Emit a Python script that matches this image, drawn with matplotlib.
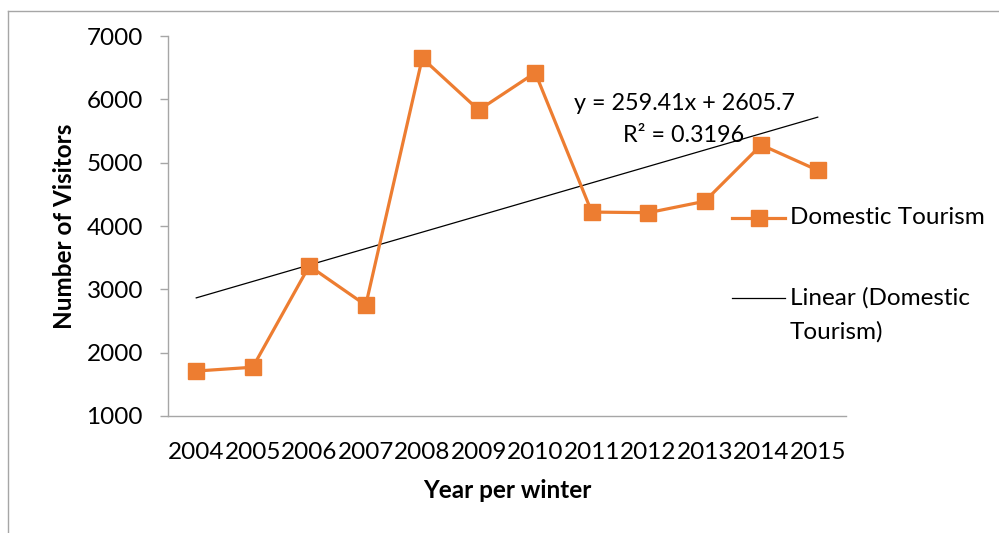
import matplotlib
matplotlib.use('Agg')  # Headless mode
import matplotlib.pyplot as plt
from matplotlib.lines import Line2D
import numpy as np

# chart data
years = ['2004', '2005', '2006', '2007', '2008', '2009',
         '2010', '2011', '2012', '2013', '2014', '2015']
visitors = [1710, 1770, 3370, 2750, 6650, 5830,
            6420, 4220, 4210, 4390, 5280, 4880]
trend_slope = 259.41
trend_intercept = 2605.7
trend_r2 = 0.3196
y_ticks = [1000, 2000, 3000, 4000, 5000, 6000, 7000]

ORANGE = '#ED7D31'
GRAY = '#A6A6A6'
FONT = 'Lato'
FS = 17.5

plt.rcParams['font.family'] = [FONT, 'DejaVu Sans']

fig = plt.figure(figsize=(9.99, 5.33), dpi=100)
ax = fig.add_axes([168 / 999, 1 - 416 / 533, (846 - 168) / 999, (416 - 36) / 533])

x = np.arange(len(years))
ax.plot(x, visitors, color=ORANGE, lw=2.3, marker='s', ms=12, zorder=3)

# linear trendline, Excel uses x = 1..n
xt = x + 1
ax.plot(x, trend_slope * xt + trend_intercept, color='black', lw=0.9, zorder=2)

ax.text(684 / 999, 1 - 103 / 533,
        f'y = {trend_slope}x + {trend_intercept}',
        transform=fig.transFigure, ha='center', va='center', fontsize=16.8)
ax.text(684 / 999, 1 - 136 / 533, f'R² = {trend_r2}',
        transform=fig.transFigure, ha='center', va='center', fontsize=16.8)

ax.set_xlim(-0.5, len(years) - 0.5)
ax.set_ylim(1000, 7000)
ax.set_xticks(x)
ax.set_xticklabels(years)
ax.set_yticks(y_ticks)

for s in ['top', 'right']:
    ax.spines[s].set_visible(False)
for s in ['left', 'bottom']:
    ax.spines[s].set_color(GRAY)
    ax.spines[s].set_linewidth(1.0)

ax.tick_params(axis='y', length=6, color=GRAY, width=1.0, pad=12, labelsize=FS)
ax.tick_params(axis='x', length=0, pad=19, labelsize=FS)

ax.set_ylabel('Number of Visitors', fontsize=17.5, fontweight='bold', va='center')
ax.yaxis.set_label_coords((65 - 168) / 678, 0.5)
ax.set_xlabel('Year per winter', fontsize=17.5, fontweight='bold', va='center')
ax.xaxis.set_label_coords((507 - 168) / 678, (416 - 491) / 380)

# legend drawn by hand so the trend handle sits on the first text line
fig.add_artist(Line2D([732 / 999, 785 / 999], [1 - 218 / 533] * 2,
                      color=ORANGE, lw=2.3, transform=fig.transFigure))
fig.add_artist(Line2D([758.5 / 999], [1 - 218 / 533], color=ORANGE, marker='s', ms=12,
                      transform=fig.transFigure))
fig.text(790 / 999, 1 - 218 / 533, 'Domestic Tourism', ha='left', va='center', fontsize=FS)
fig.add_artist(Line2D([732 / 999, 785 / 999], [1 - 298 / 533] * 2,
                      color='black', lw=0.9, transform=fig.transFigure))
fig.text(790 / 999, 1 - 298 / 533, 'Linear (Domestic', ha='left', va='center', fontsize=FS)
fig.text(790 / 999, 1 - 332 / 533, 'Tourism)', ha='left', va='center', fontsize=FS)

# outer chart border (cropped at right and bottom)
fig.add_artist(Line2D([8 / 999, 8 / 999], [0, 1 - 11 / 533], color=GRAY, lw=1.0,
                      transform=fig.transFigure))
fig.add_artist(Line2D([8 / 999, 1], [1 - 11 / 533] * 2, color=GRAY, lw=1.0,
                      transform=fig.transFigure))

fig.savefig('out.png', dpi=100)
